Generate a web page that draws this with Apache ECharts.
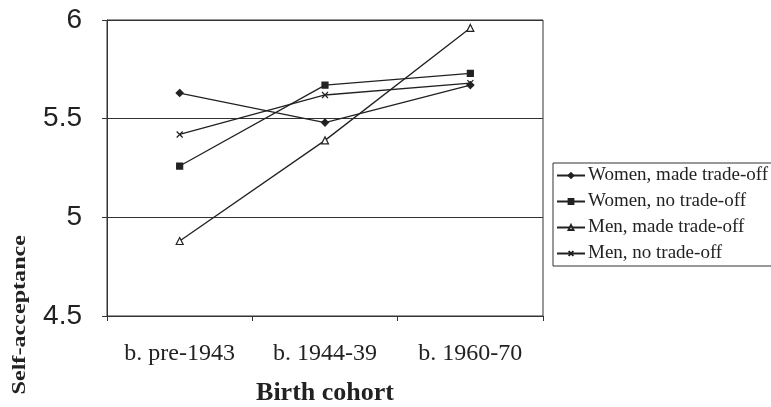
<!DOCTYPE html>
<html>
<head>
<meta charset="utf-8">
<script src="https://cdn.jsdelivr.net/npm/echarts@6/dist/echarts.min.js"></script>
<style>
html, body { margin: 0; padding: 0; background: #fff; }
#main { width: 771px; height: 407px; }
</style>
</head>
<body>
<div id="main"></div>
<script>
var myChart = echarts.init(document.getElementById('main'));

var cohorts = ['b. pre-1943', 'b. 1944-39', 'b. 1960-70'];
var womenMade = [5.63, 5.48, 5.67];
var womenNo = [5.26, 5.67, 5.73];
var menMade = [4.88, 5.39, 5.96];
var menNo = [5.42, 5.62, 5.68];

var seriesNames = ['Women, made trade-off', 'Women, no trade-off', 'Men, made trade-off', 'Men, no trade-off'];
var crossPath = 'path://M0,0L10,10M10,0L0,10';

function lineSeries(name, data, symbol, size, fill) {
    return {
        name: name,
        type: 'line',
        data: data,
        symbol: symbol,
        symbolSize: size,
        showAllSymbol: true,
        lineStyle: { color: '#222', width: 1.3 },
        itemStyle: { color: fill, borderColor: '#222', borderWidth: 1.2 },
        emphasis: { disabled: true },
        animation: false
    };
}

var option = {
    backgroundColor: '#fff',
    grid: {
        left: 107, right: 228, top: 20, bottom: 91,
        containLabel: false,
        outerBoundsMode: 'none',
        show: true, borderColor: '#333', borderWidth: 1
    },
    legend: {
        orient: 'vertical',
        left: 553,
        top: 163,
        itemGap: 7,
        itemWidth: 28,
        itemHeight: 6,
        padding: [3, 6, 3, 3],
        borderColor: '#333',
        borderWidth: 1,
        textStyle: { fontFamily: 'Liberation Serif', fontSize: 19, lineHeight: 19, color: '#222', padding: [0, 0, 0, -2] },
        data: seriesNames
    },
    xAxis: {
        type: 'category',
        data: cohorts,
        boundaryGap: true,
        name: 'Birth cohort',
        nameLocation: 'middle',
        nameGap: 64,
        nameTextStyle: { fontFamily: 'Liberation Serif', fontWeight: 'bold', fontSize: 26, color: '#222' },
        axisLine: { lineStyle: { color: '#333' } },
        axisTick: { show: true, length: 5, inside: false, lineStyle: { color: '#333' } },
        axisLabel: { fontFamily: 'Liberation Serif', fontSize: 24, color: '#222', margin: 26 }
    },
    yAxis: {
        type: 'value',
        min: 4.5,
        max: 6,
        interval: 0.5,
        axisLine: { show: true, lineStyle: { color: '#333' } },
        axisTick: { show: true, length: 5, lineStyle: { color: '#333' } },
        axisLabel: { fontFamily: 'Liberation Sans', fontSize: 28, color: '#222', margin: 25 },
        splitLine: { show: true, lineStyle: { color: '#333', width: 1 } }
    },
    graphic: [{
        type: 'text',
        left: 11,
        top: 235,
        rotation: Math.PI / 2,
        scaleX: 1.27,
        style: {
            text: 'Self-acceptance',
            fontFamily: 'Liberation Serif',
            fontWeight: 'bold',
            fontSize: 19,
            fill: '#222'
        }
    }],
    series: [
        lineSeries(seriesNames[0], womenMade, 'diamond', 7, '#222'),
        lineSeries(seriesNames[1], womenNo, 'rect', 6, '#222'),
        lineSeries(seriesNames[2], menMade, 'triangle', 7, '#fff'),
        lineSeries(seriesNames[3], menNo, crossPath, 6, 'none')
    ]
};

myChart.setOption(option);
</script>
</body>
</html>
